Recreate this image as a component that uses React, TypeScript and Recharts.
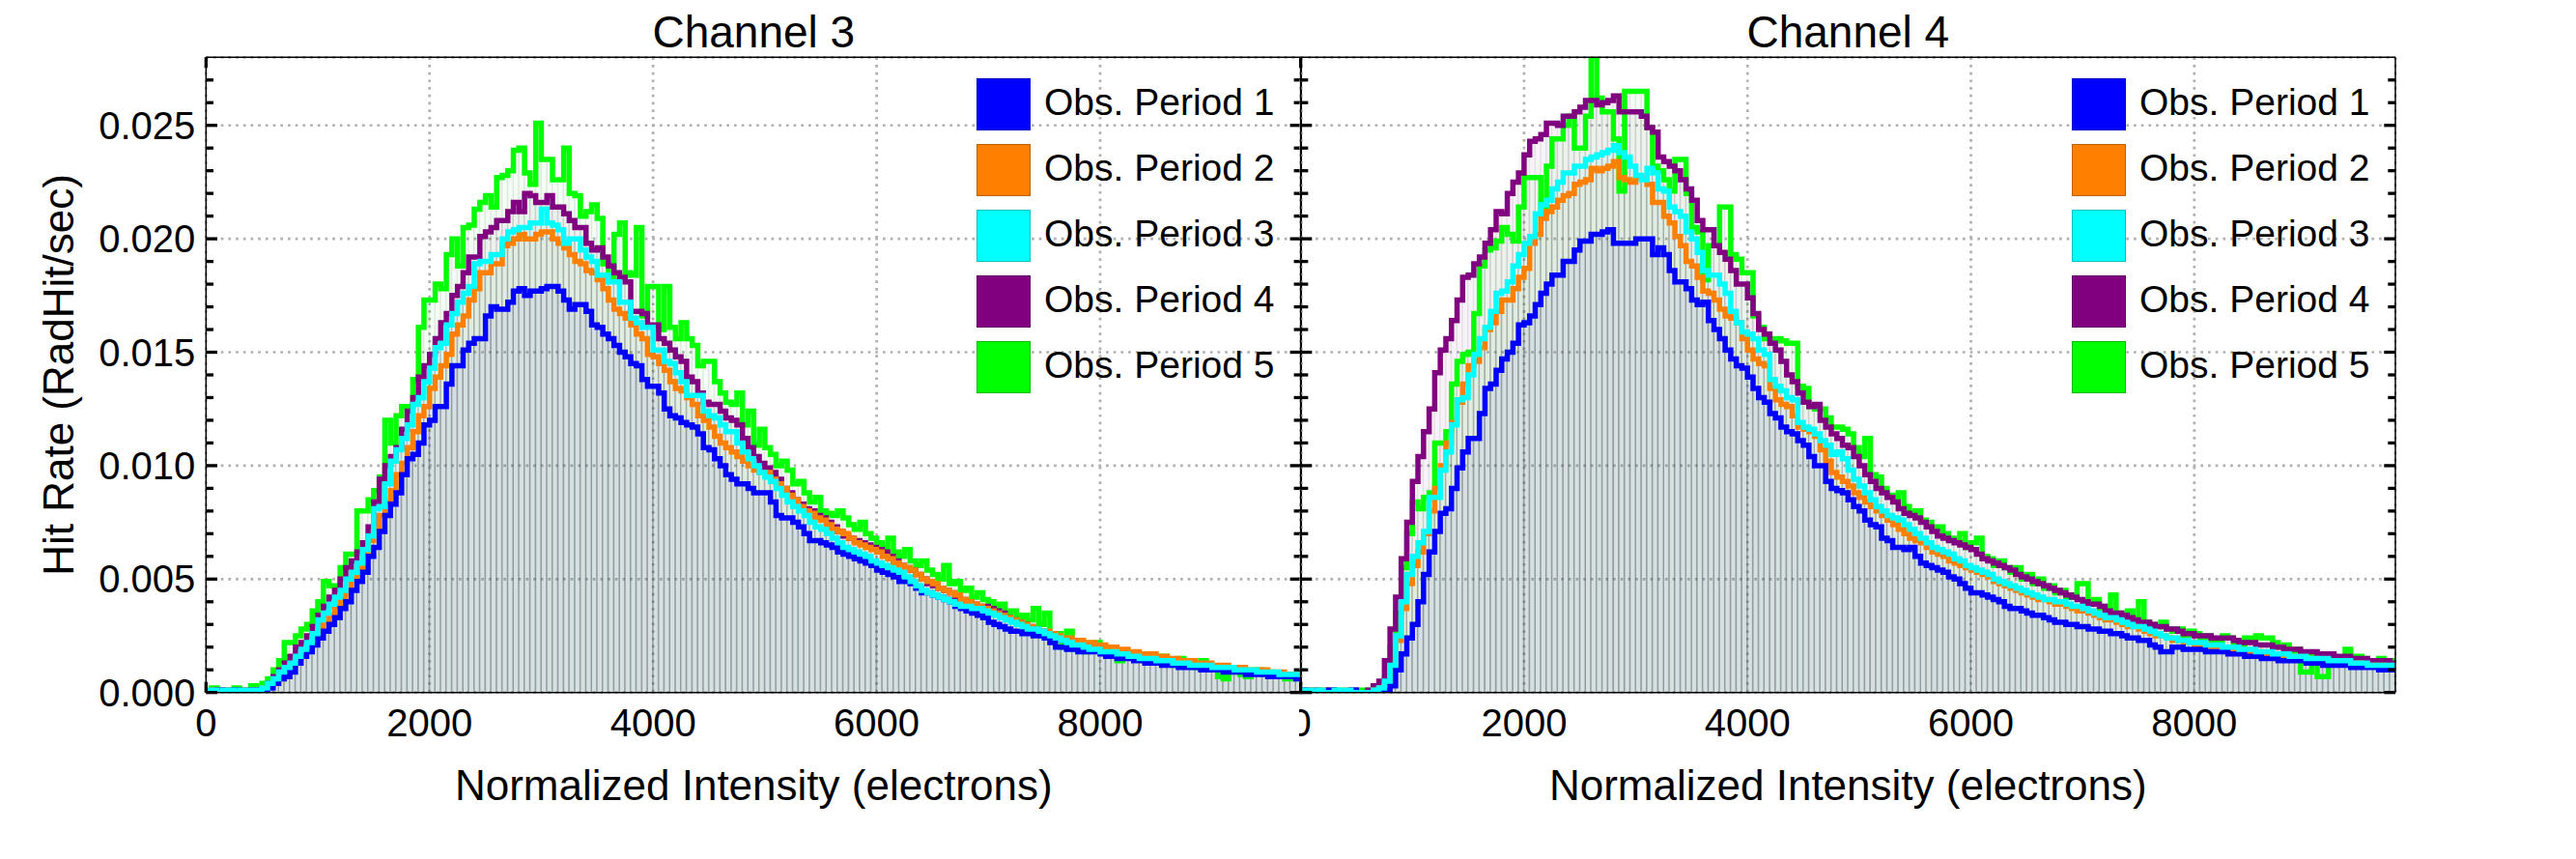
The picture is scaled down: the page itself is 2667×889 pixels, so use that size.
import React from 'react';
import { ComposedChart, Bar, Line, XAxis, YAxis, CartesianGrid, Legend } from 'recharts';

const FONT = '"Liberation Sans", Arial, Helvetica, sans-serif';

const SERIES_NAMES = ['Obs. Period 1', 'Obs. Period 2', 'Obs. Period 3', 'Obs. Period 4', 'Obs. Period 5'];
const SERIES_COLORS = ['#0000ff', '#ff8000', '#00ffff', '#800080', '#00ff00'];
// outline drawing order (bottom -> top)
const LINE_ORDER = [4, 3, 1, 0, 2];

const PANEL_TITLES = ['Channel 3', 'Channel 4'];
const X_LABEL = 'Normalized Intensity (electrons)';
const Y_LABEL = 'Hit Rate (RadHit/sec)';

const BIN_WIDTH = 50; // electrons per histogram bin, first bin starts at 0
const X_MAX = 9800;
const Y_MAX = 0.028;
const VALUE_UNIT = 1e-4; // series values below are in units of 1e-4 RadHit/sec

const X_MAJOR_TICKS = [0, 2000, 4000, 6000, 8000];
const X_MINOR_TICKS = [500, 1000, 1500, 2500, 3000, 3500, 4500, 5000, 5500, 6500, 7000, 7500, 8500, 9000, 9500];
const Y_MAJOR_TICKS = [0, 0.005, 0.01, 0.015, 0.02, 0.025];
const Y_MINOR_TICKS = [0.001, 0.002, 0.003, 0.004, 0.006, 0.007, 0.008, 0.009, 0.011, 0.012, 0.013, 0.014, 0.016, 0.017, 0.018, 0.019, 0.021, 0.022, 0.023, 0.024, 0.026, 0.027];

// ---------------- Channel 3 ----------------
const CH3_P1 = [
  0,0,1,0,0,1,0,0,1,1,
  1,2,4,6,7,9,13,16,18,21,
  24,27,30,33,37,40,45,49,53,60,
  64,71,78,83,88,96,103,105,110,118,
  120,126,126,136,144,144,151,154,156,156,
  166,170,169,169,172,177,178,175,177,177,
  178,179,179,177,173,169,171,171,168,162,
  161,158,156,153,150,148,145,144,138,135,
  135,132,125,122,121,119,118,117,114,108,
  107,103,100,96,94,92,92,90,88,88,
  88,84,78,77,77,75,73,70,67,67,
  66,65,64,62,61,60,59,58,57,56,
  54,53,52,51,49,49,48,46,44,44,
  43,42,41,40,38,37,36,35,34,33,
  31,30,29,28,27,27,26,26,25,25,
  24,22,20,20,19,19,18,18,18,18,
  17,16,16,15,15,15,14,14,13,13,
  13,12,12,12,11,11,11,11,10,10,
  10,10,9,9,9,9,8,8,8,8,
  7,7,7,7,7,6,
];
const CH3_P2 = [
  0,1,0,1,0,0,1,1,0,1,
  2,3,5,8,10,12,15,18,21,24,
  28,31,34,38,41,45,50,55,62,67,
  72,78,84,89,96,101,108,115,122,126,
  134,139,144,149,158,162,166,173,178,185,
  185,189,189,197,198,200,202,200,200,202,
  203,203,200,198,196,193,190,189,186,185,
  182,178,173,169,167,165,162,158,156,149,
  148,145,142,137,134,133,130,127,122,120,
  117,113,110,108,106,104,102,100,98,97,
  97,94,92,90,87,85,82,80,79,77,
  76,74,72,71,70,68,66,65,64,63,
  62,60,59,57,56,55,54,52,50,49,
  48,46,45,44,43,41,40,39,38,37,
  36,35,34,33,32,31,30,29,28,27,
  27,26,25,24,24,23,23,22,22,21,
  21,20,20,19,19,18,18,17,17,17,
  16,16,15,15,14,14,14,13,13,13,
  12,12,12,11,11,11,10,10,10,10,
  9,9,9,8,8,8,
];
const CH3_P3 = [
  1,1,0,1,1,0,1,1,1,1,
  2,4,6,9,11,13,16,19,22,26,
  32,35,39,42,45,50,53,57,63,69,
  81,82,92,102,107,112,118,127,130,137,
  143,152,154,162,167,172,176,179,189,190,
  190,193,193,200,203,204,205,205,207,207,
  213,207,206,204,198,200,200,195,192,190,
  184,184,181,181,172,172,165,163,161,161,
  151,151,146,145,141,137,131,131,131,124,
  122,121,118,115,115,110,106,103,100,97,
  95,93,90,87,84,82,80,78,75,73,
  72,70,68,66,64,63,62,61,60,58,
  57,56,55,54,53,51,49,47,45,44,
  43,42,41,40,39,38,38,37,37,36,
  35,34,33,32,31,30,29,28,28,27,
  26,25,24,23,22,21,21,20,19,19,
  18,18,18,17,17,16,16,15,15,15,
  14,14,14,13,13,13,12,12,12,12,
  11,11,11,11,10,10,10,10,9,9,
  9,9,8,8,8,8,
];
const CH3_P4 = [
  0,1,1,0,1,0,1,1,0,1,
  2,4,7,10,13,16,20,22,25,29,
  34,38,42,45,50,55,58,62,66,73,
  84,94,100,104,108,116,124,130,139,144,
  149,156,163,167,175,179,185,192,192,201,
  203,205,208,208,212,216,212,220,219,216,
  216,219,214,214,211,208,205,205,198,195,
  196,192,188,185,183,181,168,168,167,162,
  162,156,154,151,148,146,139,137,132,128,
  127,127,124,121,120,118,112,108,104,101,
  99,97,94,90,88,85,83,81,80,78,
  77,75,73,71,69,68,67,66,65,64,
  63,62,60,58,56,55,54,52,50,48,
  47,46,45,44,42,41,40,39,38,38,
  37,36,35,33,32,31,30,29,28,27,
  26,25,24,23,22,22,21,20,19,19,
  18,18,17,17,16,16,16,15,15,14,
  14,14,13,13,13,12,12,12,12,11,
  11,11,10,10,10,10,9,9,9,9,
  8,8,8,8,7,7,
];
const CH3_P5 = [
  1,2,1,1,0,2,1,0,3,1,
  4,6,10,14,22,22,25,28,30,36,
  40,49,47,47,55,61,61,80,80,85,
  89,95,120,110,122,126,126,138,161,173,
  173,180,178,193,200,188,205,206,213,216,
  219,214,227,228,230,239,240,229,224,251,
  235,235,226,226,240,220,219,210,212,215,
  209,189,183,202,207,185,184,205,166,179,
  179,160,179,161,156,163,156,153,144,146,
  146,137,132,128,127,132,118,124,109,116,
  108,105,100,102,98,92,93,88,84,86,
  80,79,78,80,77,74,72,75,70,68,
  66,64,68,62,60,63,58,56,58,54,
  52,50,56,48,49,45,46,42,44,41,
  40,38,39,35,36,33,34,32,37,30,
  35,24,26,20,27,19,23,18,21,22,
  18,17,19,14,18,16,15,17,14,15,
  14,16,13,12,15,12,13,11,14,10,
  10,7,6,9,11,8,7,9,10,8,
  9,7,8,6,8,6,
];

// ---------------- Channel 4 ----------------
const CH4_P1 = [
  1,0,0,0,0,1,0,0,0,1,
  0,0,0,0,1,1,3,10,17,24,
  30,40,52,62,71,79,81,90,99,106,
  112,112,123,134,136,142,147,150,154,162,
  163,166,171,176,180,184,184,190,190,195,
  199,199,202,202,203,204,198,198,198,198,
  200,200,200,193,196,193,186,181,181,178,
  173,171,172,164,160,156,151,147,144,143,
  139,134,130,128,123,121,117,115,114,111,
  109,104,100,100,93,90,89,88,85,82,
  80,76,74,73,68,67,64,64,63,64,
  60,57,56,55,54,53,51,50,48,46,
  44,44,43,42,41,40,38,37,37,36,
  35,34,34,33,32,31,31,30,30,29,
  29,28,28,27,27,26,26,25,24,24,
  23,23,21,20,18,18,20,20,19,19,
  19,19,18,18,18,18,17,17,17,16,
  16,16,15,15,15,14,14,14,14,14,
  13,13,13,12,12,12,12,12,11,11,
  11,11,11,10,10,10,
];
const CH4_P2 = [
  0,1,0,0,1,0,0,0,1,0,
  0,0,0,1,2,4,11,23,37,48,
  56,62,70,80,90,100,110,119,128,136,
  144,146,152,160,163,168,173,173,178,183,
  187,198,202,209,212,214,217,219,220,224,
  225,226,231,230,231,232,234,227,226,225,
  227,227,224,216,216,210,207,201,197,190,
  188,183,177,176,173,169,166,165,163,156,
  151,147,145,144,134,129,127,126,122,117,
  116,115,113,107,102,97,95,93,91,88,
  86,84,82,80,78,76,74,72,70,68,
  67,66,64,62,61,60,58,57,56,55,
  54,53,52,51,49,48,47,46,45,44,
  43,42,41,41,40,39,39,38,37,36,
  36,35,34,33,32,32,31,30,29,29,
  28,27,26,25,25,24,23,23,22,22,
  21,21,21,20,20,20,19,19,19,18,
  18,18,17,17,17,16,16,16,15,15,
  15,15,14,14,14,14,13,13,13,13,
  12,12,12,12,11,11,
];
const CH4_P3 = [
  1,1,0,1,0,0,1,0,1,0,
  0,0,0,1,2,5,12,25,40,52,
  60,66,71,86,86,98,106,118,129,130,
  140,149,156,161,168,176,177,181,188,193,
  198,201,211,215,217,222,225,229,229,232,
  232,235,236,237,238,239,241,238,236,232,
  228,226,231,229,222,221,214,212,210,203,
  200,194,186,184,184,180,176,168,163,159,
  158,156,151,149,138,135,133,130,129,119,
  117,116,114,111,109,105,106,103,98,94,
  91,88,85,82,80,78,77,76,74,72,
  70,68,66,64,63,62,61,59,58,56,
  55,54,53,52,50,49,48,47,46,45,
  44,43,42,41,41,40,40,39,38,38,
  37,36,35,34,33,33,32,31,30,29,
  29,28,27,26,25,24,24,23,23,22,
  22,22,21,21,21,20,20,20,19,19,
  19,18,18,18,17,17,17,16,16,16,
  15,15,15,15,14,14,14,14,13,13,
  13,12,12,12,12,12,
];
const CH4_P4 = [
  0,0,1,0,0,1,0,0,0,1,
  0,0,1,3,5,14,28,42,59,75,
  93,104,115,125,141,151,156,164,173,183,
  184,189,192,198,204,212,211,220,225,229,
  237,243,244,246,251,251,250,254,254,256,
  258,261,261,259,260,261,263,256,256,256,
  256,254,249,247,236,234,232,230,226,222,
  217,208,204,204,197,194,191,186,180,180,
  174,167,160,158,154,151,146,140,137,132,
  128,126,127,120,117,114,112,109,108,104,
  100,96,93,90,88,86,84,81,79,78,
  77,75,73,71,69,68,67,66,65,64,
  63,61,59,58,57,56,55,54,52,51,
  50,49,48,47,46,45,44,43,42,41,
  40,39,39,38,36,35,35,34,33,32,
  31,31,30,29,29,28,28,27,26,26,
  25,25,25,24,24,24,24,23,22,22,
  22,21,21,21,20,20,19,19,19,18,
  18,18,17,17,17,16,16,16,15,15,
  15,14,14,14,14,13,
];
const CH4_P5 = [
  1,0,0,1,0,0,1,0,0,0,
  0,1,0,1,2,6,20,35,55,70,
  84,81,86,88,110,110,115,136,146,149,
  150,167,188,195,196,199,205,202,199,214,
  227,227,227,211,232,244,244,250,254,240,
  240,254,280,262,256,256,244,221,265,265,
  265,265,249,232,230,226,221,235,235,220,
  205,203,182,197,197,214,214,193,191,185,
  185,166,161,156,156,156,155,154,154,135,
  134,126,125,125,121,117,117,116,114,108,
  104,112,96,95,90,87,86,88,82,79,
  80,76,75,72,73,70,68,67,70,64,
  66,68,60,59,56,58,55,53,55,50,
  52,48,50,46,47,44,45,42,43,48,
  48,40,41,37,38,43,35,34,36,33,
  40,31,30,29,31,28,27,28,25,27,
  26,24,25,23,22,25,24,22,21,24,
  24,25,24,24,22,20,21,18,19,9,
  9,17,7,7,16,15,15,19,14,16,
  15,13,14,15,13,14,
];

const CHANNEL_SERIES = [
  [CH3_P1, CH3_P2, CH3_P3, CH3_P4, CH3_P5],
  [CH4_P1, CH4_P2, CH4_P3, CH4_P4, CH4_P5],
];

function buildRows(series: number[][]) {
  const n = series[0].length;
  const rows: any[] = [];
  for (let k = 0; k < n; k++) {
    const row: any = { x: k * BIN_WIDTH, c: k * BIN_WIDTH + BIN_WIDTH / 2 };
    series.forEach((s, i) => {
      row['v' + i] = s[k] * VALUE_UNIT;
      row['b' + i] = s[k] * VALUE_UNIT;
    });
    rows.push(row);
  }
  // closing edge of the last bin for the step outlines
  const end: any = { x: n * BIN_WIDTH, c: n * BIN_WIDTH + BIN_WIDTH / 2 };
  series.forEach((s, i) => {
    end['v' + i] = s[n - 1] * VALUE_UNIT;
    end['b' + i] = null;
  });
  rows.push(end);
  return rows;
}

const TICK_STYLE = { fontSize: 40, fill: '#000', fontFamily: FONT };
const FRAME = { stroke: '#000', strokeWidth: 1.5 };
const TICK_MARK = { stroke: '#000', strokeWidth: 3.3 };
const THIN = 0.01; // axes need a non-zero size to be drawn
const NO_LABEL = () => <g />;

const LegendBox = () => (
  <div style={{ display: 'flex', flexDirection: 'column', gap: 14 }}>
    {SERIES_NAMES.map((n, i) => (
      <div key={n} style={{ display: 'flex', alignItems: 'center', height: 54 }}>
        <div
          style={{
            width: 56,
            height: 54,
            background: SERIES_COLORS[i],
            boxSizing: 'border-box',
            border: '1px solid rgba(0,0,0,0.25)',
          }}
        />
        <span
          style={{
            marginLeft: 14,
            fontSize: 39,
            fontFamily: FONT,
            color: '#000',
            lineHeight: '54px',
            whiteSpace: 'nowrap',
            position: 'relative',
            top: -2,
          }}
        >
          {n}
        </span>
      </div>
    ))}
  </div>
);

type PanelProps = {
  series: number[][];
  width: number;
  height: number;
  margin: { top: number; right: number; bottom: number; left: number };
  yLabels: boolean;
  legendLeft: number;
  legendTop: number;
};

function Panel({ series, width, height, margin, yLabels, legendLeft, legendTop }: PanelProps) {
  const rows = buildRows(series);
  const plotW = width - margin.left - margin.right;
  const barPx = (plotW * BIN_WIDTH) / X_MAX;
  const xDom: [number, number] = [0, X_MAX];
  const yDom: [number, number] = [0, Y_MAX];
  return (
    <ComposedChart width={width} height={height} data={rows} margin={margin}>
      <CartesianGrid
        xAxisId="main"
        yAxisId="main"
        stroke="#b0b0b0"
        strokeWidth={2.7}
        strokeDasharray="2.7 5"
      />
      {[0, 1, 2, 3, 4].map((i) => (
        <XAxis
          key={'bx' + i}
          xAxisId={'bar' + i}
          dataKey="c"
          type="number"
          domain={xDom}
          allowDataOverflow
          hide
          height={THIN}
        />
      ))}
      {[4, 3, 1, 2, 0].map((i) => (
        <Bar
          key={'bar' + i}
          xAxisId={'bar' + i}
          yAxisId="main"
          dataKey={'b' + i}
          barSize={barPx}
          fill={SERIES_COLORS[i]}
          fillOpacity={0.05}
          stroke="#555555"
          strokeOpacity={0.1}
          strokeWidth={1}
          isAnimationActive={false}
          legendType="none"
        />
      ))}
      {LINE_ORDER.map((i) => (
        <Line
          key={'line' + i}
          xAxisId="main"
          yAxisId="main"
          dataKey={'v' + i}
          name={SERIES_NAMES[i]}
          type="stepAfter"
          stroke={SERIES_COLORS[i]}
          strokeWidth={5.5}
          strokeLinejoin="miter"
          dot={false}
          activeDot={false}
          isAnimationActive={false}
        />
      ))}

      {/* bottom frame with labels */}
      <XAxis
        xAxisId="main"
        dataKey="x"
        type="number"
        domain={xDom}
        allowDataOverflow
        ticks={X_MAJOR_TICKS}
        interval={0}
        height={THIN}
        tickSize={0}
        tickMargin={16.5}
        tickLine={false}
        axisLine={FRAME}
        tick={TICK_STYLE}
      />
      <XAxis xAxisId="xMajB" type="number" domain={xDom} allowDataOverflow ticks={X_MAJOR_TICKS} interval={0}
        mirror height={THIN} tick={NO_LABEL} tickSize={11} tickLine={TICK_MARK} axisLine={false} />
      <XAxis xAxisId="xMinB" type="number" domain={xDom} allowDataOverflow ticks={X_MINOR_TICKS} interval={0}
        mirror height={THIN} tick={NO_LABEL} tickSize={7} tickLine={TICK_MARK} axisLine={false} />
      <XAxis xAxisId="xMajT" orientation="top" type="number" domain={xDom} allowDataOverflow ticks={X_MAJOR_TICKS} interval={0}
        mirror height={THIN} tick={NO_LABEL} tickSize={11} tickLine={TICK_MARK} axisLine={FRAME} />
      <XAxis xAxisId="xMinT" orientation="top" type="number" domain={xDom} allowDataOverflow ticks={X_MINOR_TICKS} interval={0}
        mirror height={THIN} tick={NO_LABEL} tickSize={7} tickLine={TICK_MARK} axisLine={false} />

      <YAxis
        yAxisId="main"
        type="number"
        domain={yDom}
        allowDataOverflow
        ticks={Y_MAJOR_TICKS}
        interval={0}
        width={THIN}
        tickSize={0}
        tickMargin={11}
        tickLine={false}
        axisLine={FRAME}
        tick={yLabels ? TICK_STYLE : NO_LABEL}
        tickFormatter={(v: number) => v.toFixed(3)}
      />
      <YAxis yAxisId="yMajL" type="number" domain={yDom} allowDataOverflow ticks={Y_MAJOR_TICKS} interval={0}
        mirror width={THIN} tick={NO_LABEL} tickSize={11.7} tickLine={TICK_MARK} axisLine={false} />
      <YAxis yAxisId="yMinL" type="number" domain={yDom} allowDataOverflow ticks={Y_MINOR_TICKS} interval={0}
        mirror width={THIN} tick={NO_LABEL} tickSize={7.7} tickLine={TICK_MARK} axisLine={false} />
      <YAxis yAxisId="yMajR" orientation="right" type="number" domain={yDom} allowDataOverflow ticks={Y_MAJOR_TICKS} interval={0}
        mirror width={THIN} tick={NO_LABEL} tickSize={11.7} tickLine={TICK_MARK} axisLine={FRAME} />
      <YAxis yAxisId="yMinR" orientation="right" type="number" domain={yDom} allowDataOverflow ticks={Y_MINOR_TICKS} interval={0}
        mirror width={THIN} tick={NO_LABEL} tickSize={7.7} tickLine={TICK_MARK} axisLine={false} />

      <Legend
        layout="vertical"
        align="center"
        verticalAlign="middle"
        content={() => <LegendBox />}
        wrapperStyle={{ left: legendLeft, top: legendTop, width: 420, height: 340 }}
      />
    </ComposedChart>
  );
}

export default function App() {
  const H = 889;
  return (
    <div style={{ position: 'absolute', left: 0, top: 0, width: 2667, height: H, background: '#fff', overflow: 'hidden' }}>
      <svg width={2667} height={H} style={{ position: 'absolute', left: 0, top: 0 }}>
        <g fontFamily={FONT} fill="#000">
          <text x={780.3} y={49} fontSize={46} textAnchor="middle">{PANEL_TITLES[0]}</text>
          <text x={1913.3} y={49} fontSize={46} textAnchor="middle">{PANEL_TITLES[1]}</text>
          <text x={780.3} y={828} fontSize={44} textAnchor="middle">{X_LABEL}</text>
          <text x={1913.3} y={828} fontSize={44} textAnchor="middle">{X_LABEL}</text>
          <text transform="translate(76,388) rotate(-90)" fontSize={44} textAnchor="middle">{Y_LABEL}</text>
        </g>
      </svg>
      <div style={{ position: 'absolute', left: 0, top: 0 }}>
        <Panel
          series={CHANNEL_SERIES[0]}
          width={1360}
          height={H}
          margin={{ top: 59.3, right: 12.7, bottom: 172.3, left: 213.3 }}
          yLabels
          legendLeft={1011}
          legendTop={80.5}
        />
      </div>
      <div style={{ position: 'absolute', left: 1345, top: 0 }}>
        <Panel
          series={CHANNEL_SERIES[1]}
          width={1322}
          height={H}
          margin={{ top: 59.3, right: 187, bottom: 172.3, left: 1.6 }}
          yLabels={false}
          legendLeft={800}
          legendTop={80.5}
        />
      </div>
    </div>
  );
}
